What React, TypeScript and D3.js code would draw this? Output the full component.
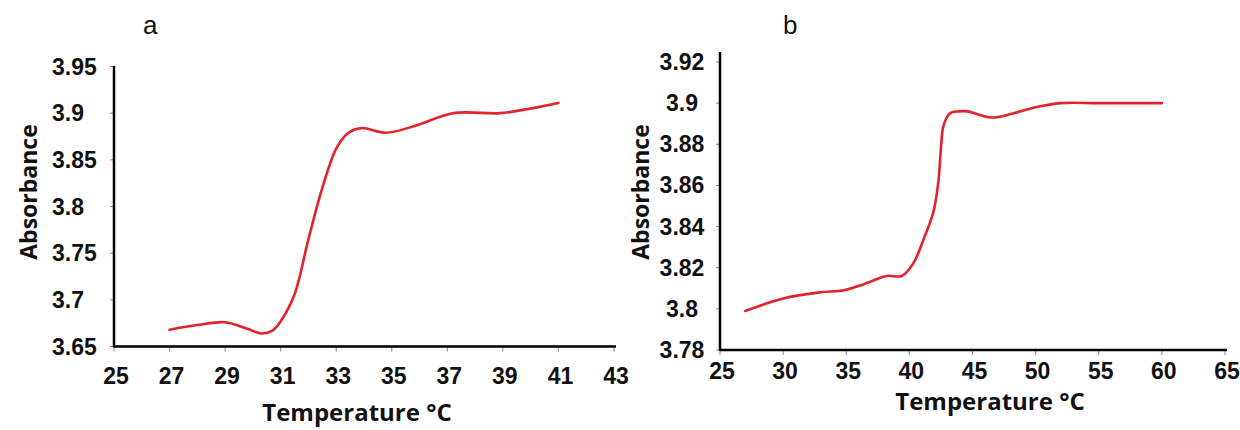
import React from "react";
import * as d3 from "d3";

// ---- Data ----
const tempA = [27, 28, 29, 29.8, 30.3, 30.7, 31, 31.5, 32, 32.5, 33, 33.4, 33.9, 34.8, 35.9, 37.2, 38.9, 40, 41];
const absA = [3.668, 3.673, 3.676, 3.669, 3.664, 3.667, 3.677, 3.706, 3.765, 3.82, 3.862, 3.878, 3.884, 3.879, 3.887, 3.9, 3.9, 3.905, 3.911];

const tempB = [27, 30, 32.9, 34.8, 36.4, 38.2, 39.4, 40.3, 41.2, 41.9, 42.3, 42.5, 42.7, 43.2, 43.9, 44.6, 46.5, 48.2, 50, 52, 55, 60];
const absB = [3.799, 3.805, 3.808, 3.809, 3.812, 3.816, 3.816, 3.822, 3.835, 3.847, 3.862, 3.878, 3.889, 3.895, 3.896, 3.896, 3.893, 3.895, 3.898, 3.9, 3.9, 3.9];

const xTicksA = [25, 27, 29, 31, 33, 35, 37, 39, 41, 43];
const yTicksA = [3.65, 3.7, 3.75, 3.8, 3.85, 3.9, 3.95];
const xTicksB = [25, 30, 35, 40, 45, 50, 55, 60, 65];
const yTicksB = [3.78, 3.8, 3.82, 3.84, 3.86, 3.88, 3.9, 3.92];

const panelLabels = ["a", "b"];
const xTitle = "Temperature °C";
const yTitle = "Absorbance";

const TICK_FONT = "'Liberation Sans', Arial, sans-serif";
const TITLE_FONT = "'Open Sans', 'Noto Sans', sans-serif";
const RED = "#e2222c";

type PanelProps = {
  temps: number[];
  vals: number[];
  xTicks: number[];
  yTicks: number[];
  xRange: [number, number];
  yRange: [number, number];
  yAxisTop: number;
  yLabelX: number;
  yLabelAnchor: string;
  xLabelY: number;
  xTitleX: number;
  xTitleY: number;
  yTitleX: number;
  label: string;
  labelX: number;
};

function Panel(p: PanelProps) {
  const x = d3.scaleLinear().domain([p.xTicks[0], p.xTicks[p.xTicks.length - 1]]).range(p.xRange);
  const y = d3.scaleLinear().domain([p.yTicks[0], p.yTicks[p.yTicks.length - 1]]).range(p.yRange);
  const data = p.temps.map((t, i) => [t, p.vals[i]] as [number, number]);
  const line = d3
    .line<[number, number]>()
    .x((d) => x(d[0]))
    .y((d) => y(d[1]))
    .curve(d3.curveCatmullRom.alpha(0.5));
  const x0 = p.xRange[0];
  const yB = p.yRange[0];
  const yMid = 192;
  return (
    <g>
      <text x={p.labelX} y={34} fontFamily={TICK_FONT} fontSize={26} fill="#111">
        {p.label}
      </text>
      {/* y ticks */}
      {p.yTicks.map((v) => (
        <g key={"y" + v}>
          <line x1={x0 - 4} x2={x0} y1={y(v)} y2={y(v)} stroke="#888" strokeWidth={1} />
          <text
            x={p.yLabelX}
            y={y(v) + 8}
            textAnchor={p.yLabelAnchor as any}
            fontFamily={TICK_FONT}
            fontWeight="bold"
            fontSize={23}
            fill="#111"
          >
            {String(v)}
          </text>
        </g>
      ))}
      {/* x ticks */}
      {p.xTicks.map((v) => (
        <g key={"x" + v}>
          <line x1={x(v)} x2={x(v)} y1={yB} y2={yB + 5} stroke="#888" strokeWidth={1} />
          <text
            x={x(v) + 2}
            y={p.xLabelY}
            textAnchor="middle"
            fontFamily={TICK_FONT}
            fontWeight="bold"
            fontSize={23}
            fill="#111"
          >
            {String(v)}
          </text>
        </g>
      ))}
      {/* axes */}
      <line x1={x0} x2={x0} y1={p.yAxisTop} y2={yB + 1} stroke="#000" strokeWidth={2.5} />
      <line x1={x0} x2={p.xRange[1] + 2} y1={yB} y2={yB} stroke="#000" strokeWidth={2.5} />
      {/* curve */}
      <path d={line(data) || ""} fill="none" stroke={RED} strokeWidth={2.6} strokeLinecap="round" />
      {/* titles */}
      <text
        x={p.xTitleX}
        y={p.xTitleY}
        textAnchor="middle"
        fontFamily={TITLE_FONT}
        fontWeight="bold"
        fontSize={24}
        fill="#111"
      >
        {xTitle}
      </text>
      <text
        transform={`translate(${p.yTitleX},${yMid}) rotate(-90)`}
        textAnchor="middle"
        fontFamily={TITLE_FONT}
        fontWeight="bold"
        fontSize={23}
        fill="#111"
      >
        {yTitle}
      </text>
    </g>
  );
}

export default function App() {
  return (
    <svg
      width={1240}
      height={430}
      style={{ position: "absolute", left: 0, top: 0, background: "#fff" }}
    >
      <rect width={1240} height={430} fill="#fff" />
      <Panel
        temps={tempA}
        vals={absA}
        xTicks={xTicksA}
        yTicks={yTicksA}
        xRange={[114, 614]}
        yRange={[346.5, 66.5]}
        yAxisTop={66}
        yLabelX={52}
        yLabelAnchor="start"
        xLabelY={384}
        xTitleX={357}
        xTitleY={421}
        yTitleX={37}
        label={panelLabels[0]}
        labelX={143}
      />
      <Panel
        temps={tempB}
        vals={absB}
        xTicks={xTicksB}
        yTicks={yTicksB}
        xRange={[720, 1225]}
        yRange={[350, 62]}
        yAxisTop={52}
        yLabelX={682}
        yLabelAnchor="middle"
        xLabelY={379}
        xTitleX={990}
        xTitleY={410}
        yTitleX={649}
        label={panelLabels[1]}
        labelX={783}
      />
    </svg>
  );
}
